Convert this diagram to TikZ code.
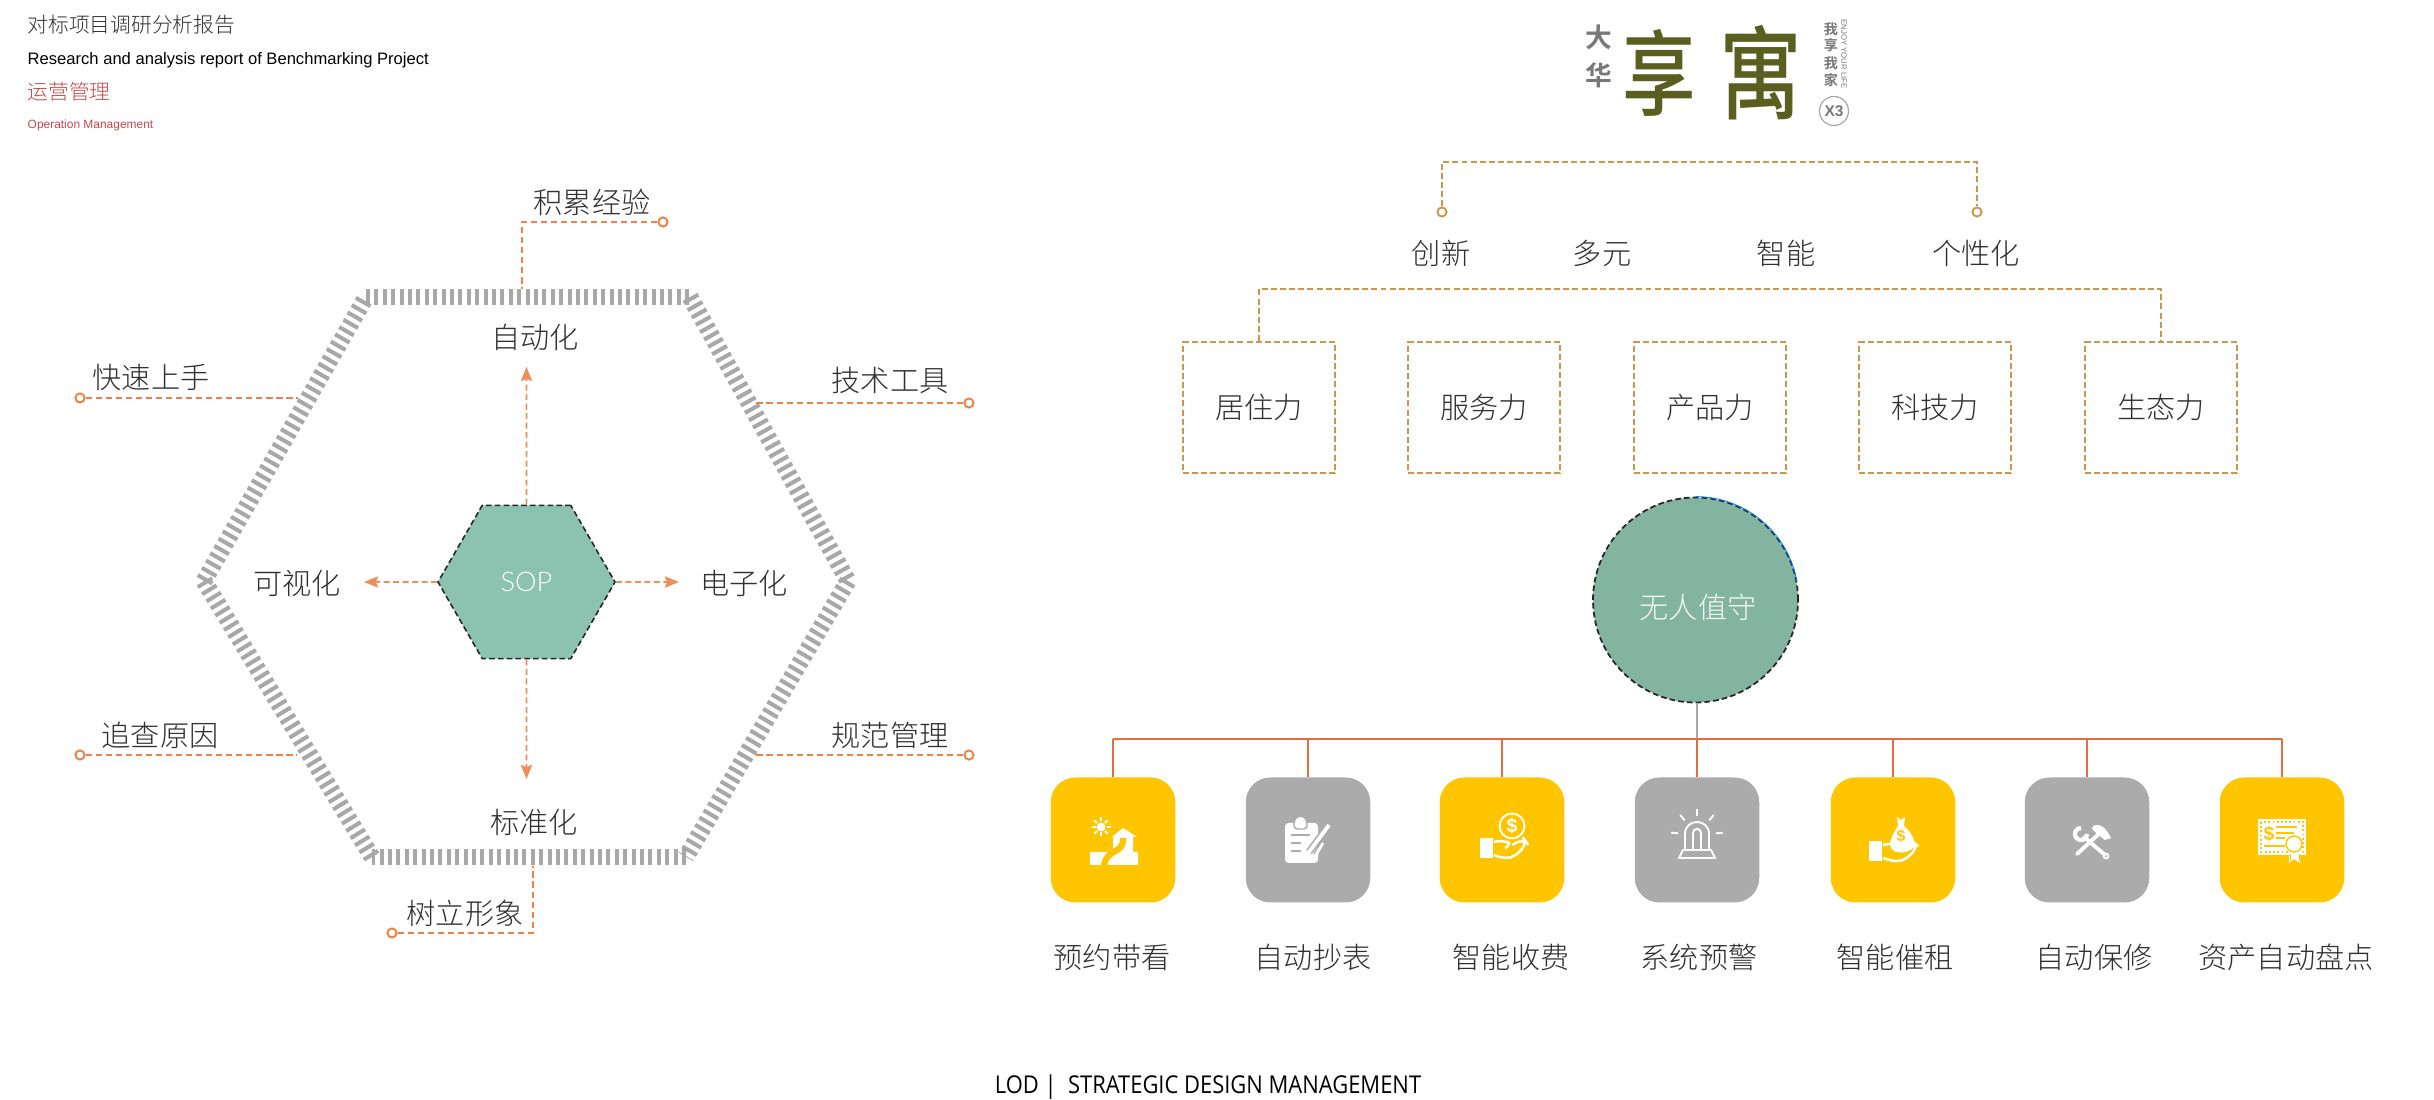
\documentclass[tikz,border=0pt]{standalone}
\usepackage{fontspec}
\usepackage{xcolor}
\usepackage{tikz}
\usetikzlibrary{shapes.geometric, arrows.meta, positioning, calc}
\setmainfont{Liberation Sans}
\newfontfamily\cjk{Noto Sans CJK SC Light}
\newfontfamily\cjkbold{Noto Sans CJK SC Bold}
\newfontfamily\cjkmedium{Noto Sans CJK SC Medium}
\newfontfamily\soplight{Lato Light}
\newfontfamily\footfont{Open Sans}
\definecolor{darktext}{RGB}{48, 48, 48}
\definecolor{redtext}{RGB}{198, 72, 74}
\definecolor{leaderorange}{RGB}{240, 128, 70}
\definecolor{arroworange}{RGB}{240, 142, 90}
\definecolor{bracetan}{RGB}{204, 150, 78}
\definecolor{busorange}{RGB}{224, 110, 62}
\definecolor{bandgray}{RGB}{168, 168, 168}
\definecolor{sopgreen}{RGB}{140, 195, 176}
\definecolor{roundgreen}{RGB}{130, 180, 160}
\definecolor{boxyellow}{RGB}{255, 198, 0}
\definecolor{boxgray}{RGB}{171, 171, 171}
\definecolor{logoolive}{RGB}{90, 94, 31}
\definecolor{logogray}{RGB}{120, 120, 120}
\tikzset{
    lbl/.style={font=\cjk\fontsize{8.3}{8.3}\selectfont, text=darktext, inner sep=0pt},
    toptext/.style={anchor=west, inner sep=0pt},
    leader/.style={leaderorange, line width=0.55pt, dash pattern=on 1.9pt off 0.95pt},
    flowarrow/.style={arroworange, line width=0.5pt, dash pattern=on 1.7pt off 1pt, -{Stealth[inset=0.6pt, length=4pt, width=3.2pt]}},
    bracket/.style={bracetan, line width=0.5pt, dash pattern=on 1.7pt off 0.9pt},
    enddot/.style={circle, draw, fill=white, line width=0.55pt, inner sep=0pt, minimum size=2.6pt},
    hexband/.style={bandgray, line width=4.8pt, dash pattern=on 1.15pt off 1.24pt},
    forcebox/.style={bracket, draw, inner sep=0pt, minimum width=1.52cm, minimum height=1.31cm, font=\cjk\fontsize{8.3}{8.3}\selectfont, text=darktext},
    iconbox/.style={rounded corners=7pt, inner sep=0pt, minimum width=1.245cm, minimum height=1.25cm},
    bus/.style={busorange, line width=0.8pt},
    ink/.style={white, line width=0.55pt},
}
% Icons, one unit is one pixel of the picture
\newcommand{\iconhome}{
    \fill[white] (-12,-13) circle[radius=4.5];
    \foreach \a in {0,45,...,315} \draw[ink] (-12,-13)+(\a:5.5) -- +(\a:9.5);
    \fill[white] (10,-12) -- (24,-3) -- (20,-3) -- (20,12) -- (25,12) -- (25,25) -- (-23,25) -- (-23,12) -- (0,12) -- (0,-3) -- (-1,-3) -- cycle;
    \draw[boxyellow, line width=1.8pt] (10,-2) .. controls (11,15) and (-8,8) .. (-9,27);
}
\newcommand{\iconclip}{
    \fill[white, rounded corners=1pt] (-23,-17) rectangle (10,23);
    \draw[boxgray, fill=white, line width=0.4pt, rounded corners=1pt] (-14,-11) -- (-14,-20) -- (-10,-24) -- (-5,-24) -- (-1,-20) -- (-1,-11) -- cycle;
    \draw[boxgray, line width=0.6pt] (-17,-5) -- (2,-5) (-17,3) -- (-7,3) (-17,11) -- (-7,11);
    \draw[boxgray, line width=2pt] (21,-15) -- (1,12);
    \draw[white, line width=1.1pt] (21,-15) -- (1,12);
    \draw[boxgray, line width=0.4pt] (13,2) -- (6,14);
    \draw[white, line width=0.8pt] (15,3) -- (8,15);
}
\newcommand{\iconcoin}{
    \draw[ink] (10,-14) circle[radius=12.5];
    \node[font=\bfseries\fontsize{5.5}{5.5}\selectfont, text=white, inner sep=0pt] (coinmark) at (10,-14) {\$};
    \fill[white] (-22,-2) rectangle (-9,18);
    \draw[ink, line width=0.7pt, rounded corners=2pt] (-8,2) -- (2,0) -- (10,5) -- (3,8) (10,5) -- (22,-1) -- (25,3) -- (14,16) -- (3,19) -- (-8,15);
}
\newcommand{\iconsiren}{
    \draw[ink] (-12,10) -- (-12,-6) .. controls (-12,-22) and (12,-22) .. (12,-6) -- (12,10);
    \draw[ink] (-4,10) -- (-4,-6) .. controls (-4,-13) and (4,-13) .. (4,-6) -- (4,10);
    \draw[ink] (-14,10) -- (14,10) -- (18,18) -- (-18,18) -- cycle;
    \foreach \a in {-90,-50,-130,-5,-175} \draw[ink] (0,-5)+(\a:19) -- +(\a:26);
}
\newcommand{\iconbag}{
    \fill[white] (4,-23) -- (8,-20) -- (12,-23) -- (11,-14) .. controls (20,-6) and (24,4) .. (20,8) .. controls (14,14) and (2,14) .. (-2,8) .. controls (-5,2) and (0,-6) .. (5,-14) -- cycle;
    \node[font=\bfseries\fontsize{4.5}{4.5}\selectfont, text=boxyellow, inner sep=0pt] (bagmark) at (8,-4) {\$};
    \fill[white] (-24,1) rectangle (-11,21);
    \draw[ink, line width=0.7pt, rounded corners=2pt] (-10,5) -- (0,3) -- (8,8) -- (2,11) (8,8) -- (20,2) -- (25,6) -- (14,19) -- (3,22) -- (-10,18);
}
\newcommand{\icontools}{
    \draw[white, line width=1.1pt, line cap=round] (-10,14) -- (15,-9);
    \fill[white] (6,-14) .. controls (14,-18) and (20,-10) .. (24,-2) -- (18,0) -- (10,-6) -- (5,-11) -- cycle;
    \draw[white, line width=1.1pt, line cap=round] (18,15) -- (-3,-3);
    \draw[white, line width=1.2pt] (0,-6) arc[start angle=0, end angle=270, radius=6];
    \draw[white, line width=0.5pt] (19,16) circle[radius=2.5];
}
\newcommand{\iconcert}{
    \fill[white] (-24,-21) rectangle (24,15);
    \draw[boxyellow, line width=0.4pt, dash pattern=on 0.5pt off 0.7pt] (-21,-18) rectangle (21,12);
    \node[font=\bfseries\fontsize{5.5}{5.5}\selectfont, text=boxyellow, inner sep=0pt] (certmark) at (-13,-6) {\$};
    \draw[boxyellow, line width=0.4pt] (-6,-13) -- (15,-13) (-6,-7) -- (12,-7) (-6,-2) -- (3,-2) (-18,6) -- (3,6);
    \fill[white] (7,8) -- (7,23) -- (12,19) -- (18,23) -- (18,8) -- cycle;
    \draw[boxyellow, line width=0.3pt] (8,14) -- (8,21) (17,14) -- (17,21);
    \draw[boxyellow, fill=white, line width=0.4pt] (12,4) circle[radius=8];
}
\begin{document}
\begin{tikzpicture}[x=0.1mm, y=-0.1mm]
    \useasboundingbox (0,0) rectangle (2434,1100);
    \fill[white] (0,0) rectangle (2434,1100);

    % Heading
    \node[toptext, font=\cjk\fontsize{5.9}{5.9}\selectfont, text=darktext] (headcn) at (27,25) {对标项目调研分析报告};
    \node[toptext, font=\fontsize{4.72}{4.72}\selectfont, text=black] (headen) at (27,60) {Research and analysis report of Benchmarking Project};
    \node[toptext, font=\cjk\fontsize{5.9}{5.9}\selectfont, text=redtext] (subcn) at (27,92) {运营管理};
    \node[toptext, font=\fontsize{3.4}{3.4}\selectfont, text=redtext] (suben) at (27,125) {Operation Management};

    % Outer hexagon band
    \coordinate (tl) at (366,297);
    \coordinate (tr) at (690,297);
    \coordinate (rr) at (848,581);
    \coordinate (br) at (686,857);
    \coordinate (bl) at (372,857);
    \coordinate (ll) at (204,581);
    \foreach \a/\b in {tl/tr, tr/rr, rr/br, br/bl, bl/ll, ll/tl}
        \draw[hexband] (\a) -- (\b);

    % Inner hexagon and its arrows
    \node[regular polygon, regular polygon sides=6, minimum size=1.77cm, inner sep=0pt, fill=sopgreen, draw=black!85, line width=0.45pt, dash pattern=on 1.6pt off 0.9pt, font=\soplight\fontsize{7.7}{7.7}\selectfont, text=white] (sop) at (526.5,582) {SOP};
    \node[lbl] (autom) at (535,337) {自动化};
    \node[lbl] (visual) at (297,583) {可视化};
    \node[lbl] (elect) at (744,583) {电子化};
    \node[lbl] (stand) at (534,822) {标准化};
    \coordinate (tipn) at (526.5,367);
    \coordinate (tips) at (526.5,779);
    \coordinate (tipw) at (364,582);
    \coordinate (tipe) at (679,582);
    \draw[flowarrow] (sop.north) -- (tipn);
    \draw[flowarrow] (sop.south) -- (tips);
    \draw[flowarrow] (sop.west) -- (tipw);
    \draw[flowarrow] (sop.east) -- (tipe);

    % Leaders around the hexagon
    \node[lbl] (jilei) at (592,202) {积累经验};
    \node[lbl] (kuaisu) at (151,377) {快速上手};
    \node[lbl] (jishu) at (890,380) {技术工具};
    \node[lbl] (zhuicha) at (160,735) {追查原因};
    \node[lbl] (guifan) at (890,735) {规范管理};
    \node[lbl] (shuli) at (465,913) {树立形象};
    \node[enddot, draw=leaderorange] (djilei) at (663,222) {};
    \node[enddot, draw=leaderorange] (dkuaisu) at (80,398) {};
    \node[enddot, draw=leaderorange] (djishu) at (969,403) {};
    \node[enddot, draw=leaderorange] (dzhuicha) at (80,755) {};
    \node[enddot, draw=leaderorange] (dguifan) at (969,755) {};
    \node[enddot, draw=leaderorange] (dshuli) at (392,933) {};
    \coordinate (ejilei) at (522,289);
    \coordinate (ekuaisu) at (298,398);
    \coordinate (ejishu) at (754,403);
    \coordinate (ezhuicha) at (297,755);
    \coordinate (eguifan) at (754,755);
    \coordinate (eshuli) at (533,866);
    \draw[leader] (djilei) -| (ejilei);
    \draw[leader] (dkuaisu) -- (ekuaisu);
    \draw[leader] (djishu) -- (ejishu);
    \draw[leader] (dzhuicha) -- (ezhuicha);
    \draw[leader] (dguifan) -- (eguifan);
    \draw[leader] (dshuli) -| (eshuli);

    % Logo
    \node[font=\cjkbold\fontsize{7.6}{7.6}\selectfont, text=logogray, inner sep=0pt] (lda) at (1599,37) {大};
    \node[font=\cjkbold\fontsize{7.6}{7.6}\selectfont, text=logogray, inner sep=0pt] (lhua) at (1599,75) {华};
    \node[font=\cjkmedium\fontsize{22}{22}\selectfont, text=logoolive, inner sep=0pt] (lxiang) at (1659,73) {\scalebox{0.95}[1.2]{享}};
    \node[font=\cjkmedium\fontsize{24}{24}\selectfont, text=logoolive, inner sep=0pt] (lyu) at (1761,73) {\scalebox{0.98}[1.2]{寓}};
    \foreach \c/\y/\n in {我/29/a, 享/45/b, 我/63/c, 家/80/d}
        \node[font=\cjkbold\fontsize{4}{4}\selectfont, text=logogray, inner sep=0pt] (lw\n) at (1831,\y) {\c};
    \node[rotate=-90, font=\fontsize{2.2}{2.2}\selectfont, text=logogray, inner sep=0pt] (lenjoy) at (1844,54) {ENJOY YOUR LIFE};
    \node[circle, draw=bandgray, line width=0.35pt, minimum size=0.29cm, inner sep=0pt, font=\bfseries\fontsize{4.4}{4.4}\selectfont, text=logogray] (lxthree) at (1834,111) {X3};

    % Brackets and force boxes
    \node[enddot, draw=bracetan] (dleft) at (1442,212) {};
    \node[enddot, draw=bracetan] (dright) at (1977,212) {};
    \coordinate (bracka) at (1700,162);
    \draw[bracket] (dleft) |- (bracka) -| (dright);
    \node[lbl] (chuang) at (1441,253) {创新};
    \node[lbl] (duo) at (1602,253) {多元};
    \node[lbl] (zhi) at (1786,253) {智能};
    \node[lbl] (ge) at (1976,253) {个性化};
    \foreach \n/\x/\t in {fa/1259/居住力, fb/1484/服务力, fc/1710/产品力, fd/1935/科技力, fe/2161/生态力}
        \node[forcebox] (\n) at (\x,407.5) {\t};
    \coordinate (brackb) at (1700,289);
    \draw[bracket] (fa.north) |- (brackb) -| (fe.north);

    % Centre circle
    \node[circle, minimum size=2.05cm, inner sep=0pt, fill=roundgreen, draw=black!85, line width=0.5pt, dash pattern=on 1.6pt off 0.9pt] (nobody) at (1695.5,600) {};
    \node[lbl, text=white!90!roundgreen] (nobodyt) at (1698,607) {无人值守};
    \draw[blue!50!cyan, line width=0.25pt] (nobody.90) arc[start angle=-90, end angle=-10, radius=103];

    % Service boxes
    \foreach \n/\x/\c/\tx/\t in {sa/1113/boxyellow/1112/预约带看, sb/1308/boxgray/1313/自动抄表, sc/1502/boxyellow/1511/智能收费, sd/1697/boxgray/1699/系统预警, se/1893/boxyellow/1895/智能催租, sf/2087/boxgray/2094/自动保修, sg/2282/boxyellow/2286/资产自动盘点} {
        \node[iconbox, fill=\c] (\n) at (\x,840) {};
        \node[lbl] (\n-t) at (\tx,957) {\t};
    }
    \coordinate (busline) at (1697,739);
    \draw[bandgray, line width=0.6pt] (busline |- nobody.south) -- (busline);
    \draw[bus] (sa.north |- busline) -- (sg.north |- busline);
    \foreach \n in {sa,sb,sc,sd,se,sf,sg}
        \draw[bus] (\n.north |- busline) -- (\n.north);

    \begin{scope}[shift={(sa.center)}] \iconhome \end{scope}
    \begin{scope}[shift={(sb.center)}] \iconclip \end{scope}
    \begin{scope}[shift={(sc.center)}] \iconcoin \end{scope}
    \begin{scope}[shift={(sd.center)}] \iconsiren \end{scope}
    \begin{scope}[shift={(se.center)}] \iconbag \end{scope}
    \begin{scope}[shift={(sf.center)}] \icontools \end{scope}
    \begin{scope}[shift={(sg.center)}] \iconcert \end{scope}

    % Footer
    \node[font=\footfont\fontsize{6.24}{6.24}\selectfont, text=black, inner sep=0pt] (footer) at (1208,1087) {\scalebox{1}[1.12]{LOD |\ \ STRATEGIC DESIGN MANAGEMENT}};
\end{tikzpicture}
\end{document}
